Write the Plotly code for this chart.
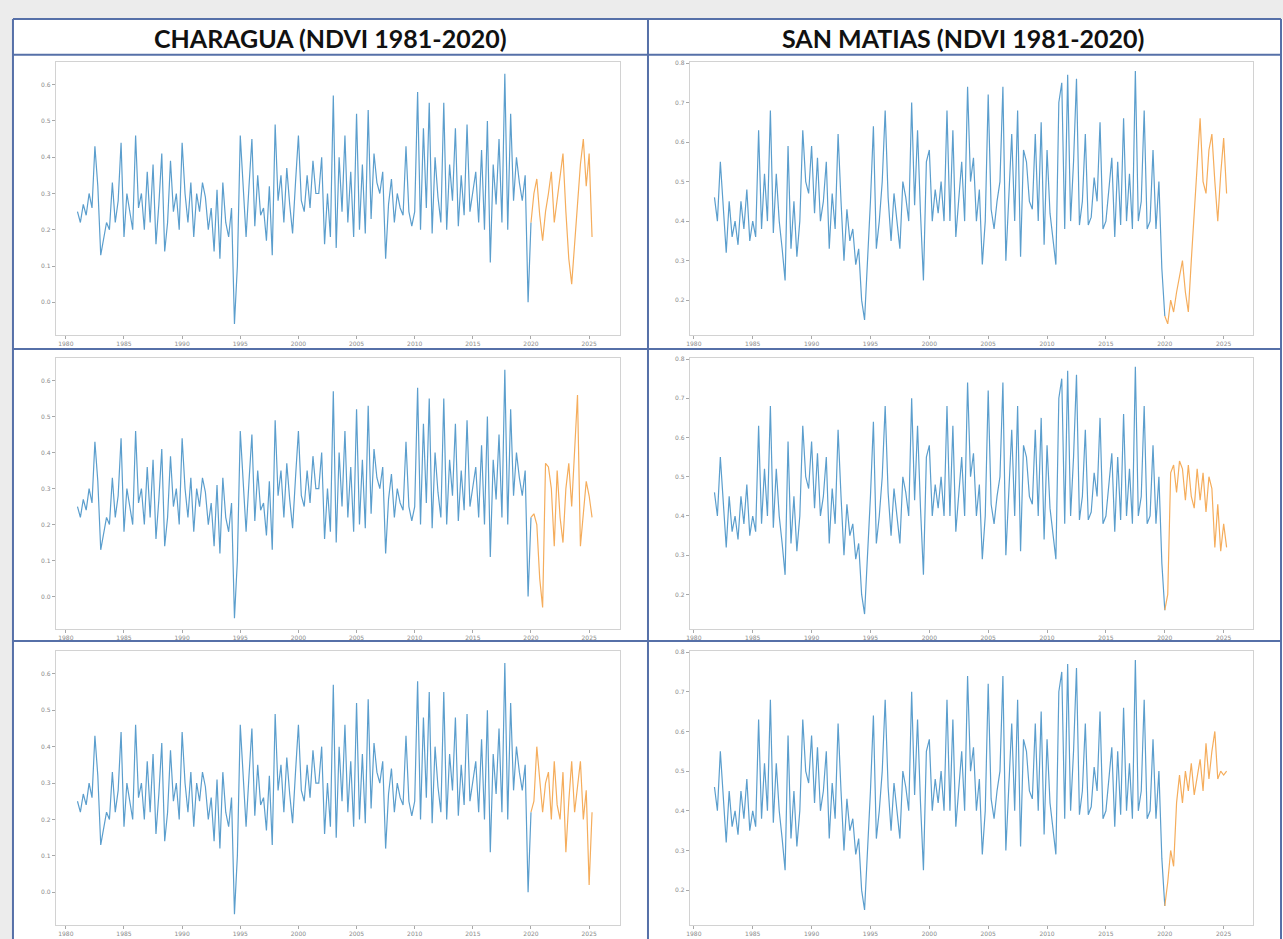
import plotly.graph_objects as go

W, H = 1283, 939

# ---------------- data ----------------
year_ticks = [1980, 1985, 1990, 1995, 2000, 2005, 2010, 2015, 2020, 2025]
year_labels = [str(y) for y in year_ticks]

charagua_yticks = [0.0, 0.1, 0.2, 0.3, 0.4, 0.5, 0.6]
sanmatias_yticks = [0.2, 0.3, 0.4, 0.5, 0.6, 0.7, 0.8]

STEP = 0.25  # quarterly samples

# Charagua observed NDVI, quarterly from 1981.0
charagua_start = 1981.0
charagua_hist = [
    0.25, 0.22, 0.27, 0.24,
    0.30, 0.26, 0.43, 0.32,
    0.13, 0.18, 0.22, 0.20,
    0.33, 0.22, 0.28, 0.44,
    0.18, 0.30, 0.25, 0.20,
    0.46, 0.26, 0.30, 0.20,
    0.36, 0.22, 0.38, 0.16,
    0.27, 0.41, 0.14, 0.22,
    0.39, 0.25, 0.30, 0.20,
    0.44, 0.30, 0.22, 0.33,
    0.18, 0.30, 0.25, 0.33,
    0.29, 0.20, 0.26, 0.14,
    0.31, 0.12, 0.33, 0.22,
    0.18, 0.26, -0.06, 0.10,
    0.46, 0.30, 0.18, 0.32,
    0.45, 0.21, 0.35, 0.24,
    0.26, 0.17, 0.32, 0.13,
    0.49, 0.28, 0.35, 0.22,
    0.37, 0.27, 0.19, 0.33,
    0.46, 0.28, 0.25, 0.35,
    0.26, 0.39, 0.30, 0.30,
    0.40, 0.16, 0.30, 0.18,
    0.57, 0.15, 0.40, 0.25,
    0.46, 0.22, 0.36, 0.18,
    0.52, 0.20, 0.38, 0.19,
    0.53, 0.23, 0.41, 0.33,
    0.30, 0.36, 0.12, 0.27,
    0.34, 0.22, 0.30, 0.26,
    0.24, 0.43, 0.25, 0.21,
    0.25, 0.58, 0.20, 0.48,
    0.26, 0.55, 0.19, 0.40,
    0.29, 0.22, 0.55, 0.20,
    0.38, 0.28, 0.48, 0.21,
    0.35, 0.24, 0.49, 0.25,
    0.30, 0.36, 0.22, 0.42,
    0.20, 0.50, 0.11, 0.38,
    0.27, 0.45, 0.22, 0.63,
    0.20, 0.52, 0.28, 0.40,
    0.33, 0.28, 0.35, 0.00,
    0.22,
]

# San Matias observed NDVI, quarterly from 1981.75
sanmatias_start = 1981.75
sanmatias_hist = [
    0.46,
    0.40, 0.55, 0.43, 0.32,
    0.45, 0.36, 0.40, 0.34,
    0.45, 0.38, 0.48, 0.35,
    0.40, 0.36, 0.63, 0.38,
    0.52, 0.40, 0.68, 0.37,
    0.52, 0.40, 0.33, 0.25,
    0.59, 0.33, 0.45, 0.31,
    0.40, 0.63, 0.50, 0.47,
    0.59, 0.42, 0.56, 0.40,
    0.45, 0.55, 0.33, 0.47,
    0.38, 0.62, 0.45, 0.30,
    0.43, 0.35, 0.38, 0.29,
    0.33, 0.20, 0.15, 0.30,
    0.45, 0.64, 0.33, 0.40,
    0.50, 0.68, 0.46, 0.35,
    0.47, 0.40, 0.33, 0.50,
    0.46, 0.40, 0.70, 0.44,
    0.63, 0.42, 0.25, 0.55,
    0.58, 0.40, 0.48, 0.42,
    0.50, 0.40, 0.68, 0.40,
    0.63, 0.36, 0.45, 0.55,
    0.40, 0.74, 0.50, 0.56,
    0.40, 0.48, 0.29, 0.40,
    0.72, 0.43, 0.38, 0.45,
    0.50, 0.74, 0.30, 0.45,
    0.62, 0.40, 0.68, 0.31,
    0.58, 0.55, 0.45, 0.43,
    0.62, 0.40, 0.65, 0.34,
    0.58, 0.42, 0.35, 0.29,
    0.70, 0.75, 0.38, 0.77,
    0.40, 0.55, 0.76, 0.39,
    0.45, 0.62, 0.39, 0.41,
    0.51, 0.45, 0.65, 0.38,
    0.40, 0.48, 0.56, 0.36,
    0.55, 0.39, 0.66, 0.40,
    0.52, 0.38, 0.78, 0.40,
    0.45, 0.68, 0.38, 0.40,
    0.58, 0.38, 0.50, 0.28,
    0.16,
]

# Forecasts, quarterly from 2020.0
forecast_start = 2020.0
charagua_fc_1 = [0.22, 0.30, 0.34, 0.24, 0.17, 0.25, 0.30, 0.36, 0.22, 0.28, 0.35,
                 0.41, 0.25, 0.12, 0.05, 0.15, 0.27, 0.38, 0.45, 0.32, 0.41, 0.18]
charagua_fc_2 = [0.22, 0.23, 0.20, 0.05, -0.03, 0.37, 0.36, 0.30, 0.14, 0.35, 0.22,
                 0.15, 0.30, 0.37, 0.25, 0.40, 0.56, 0.14, 0.22, 0.32, 0.28, 0.22]
charagua_fc_3 = [0.22, 0.25, 0.40, 0.30, 0.22, 0.30, 0.33, 0.20, 0.36, 0.24, 0.20,
                 0.33, 0.11, 0.25, 0.36, 0.22, 0.30, 0.36, 0.20, 0.28, 0.02, 0.22]
sanmatias_fc_1 = [0.16, 0.14, 0.20, 0.17, 0.22, 0.26, 0.30, 0.22, 0.17, 0.30, 0.42,
                  0.55, 0.66, 0.50, 0.47, 0.58, 0.62, 0.50, 0.40, 0.52, 0.61, 0.47]
sanmatias_fc_2 = [0.16, 0.20, 0.51, 0.53, 0.46, 0.54, 0.52, 0.44, 0.53, 0.45, 0.42,
                  0.52, 0.44, 0.51, 0.41, 0.50, 0.47, 0.32, 0.43, 0.31, 0.38, 0.32]
sanmatias_fc_3 = [0.16, 0.22, 0.30, 0.26, 0.42, 0.49, 0.42, 0.50, 0.45, 0.52, 0.44,
                  0.48, 0.53, 0.45, 0.57, 0.48, 0.55, 0.60, 0.48, 0.50, 0.49, 0.50]

titles = ["CHARAGUA (NDVI 1981-2020)", "SAN MATIAS (NDVI 1981-2020)"]

# ---------------- styling ----------------
BLUE = "#5b9ecd"
ORANGE = "#f5ad5c"
FRAME = "#d2d2d2"
GRID_LINE = "#5670a8"
TICK_FONT = dict(family="DejaVu Sans", size=6, color="#8a8a8a")


def times(start, n):
    return [start + STEP * i for i in range(n)]


def px_x(x):
    return x / W


def px_y(y):
    return 1 - y / H


# axes boxes in pixels: (left, right, top, bottom)
col_box = {0: (52, 618), 1: (688, 1253)}
row_box = {0: (59, 333), 1: (356, 628), 2: (650, 925)}
x_ranges = {0: [1979.14, 2027.66], 1: [1979.66, 2027.5]}
y_ranges = {0: [-0.09, 0.663], 1: [0.112, 0.803]}

panels = [
    (0, 0, charagua_start, charagua_hist, charagua_fc_1),
    (0, 1, sanmatias_start, sanmatias_hist, sanmatias_fc_1),
    (1, 0, charagua_start, charagua_hist, charagua_fc_2),
    (1, 1, sanmatias_start, sanmatias_hist, sanmatias_fc_2),
    (2, 0, charagua_start, charagua_hist, charagua_fc_3),
    (2, 1, sanmatias_start, sanmatias_hist, sanmatias_fc_3),
]

fig = go.Figure()
layout = {}

for i, (r, c, start, hist, fc) in enumerate(panels, start=1):
    sfx = "" if i == 1 else str(i)
    xa, ya = "x" + sfx, "y" + sfx
    fig.add_trace(go.Scatter(x=times(start, len(hist)), y=hist, mode="lines",
                             line=dict(color=BLUE, width=1.2), xaxis=xa, yaxis=ya,
                             showlegend=False, hoverinfo="skip"))
    fig.add_trace(go.Scatter(x=times(forecast_start, len(fc)), y=fc, mode="lines",
                             line=dict(color=ORANGE, width=1.2), xaxis=xa, yaxis=ya,
                             showlegend=False, hoverinfo="skip"))
    l, rgt = col_box[c]
    t, b = row_box[r]
    yt = charagua_yticks if c == 0 else sanmatias_yticks
    layout["xaxis" + sfx] = dict(
        domain=[px_x(l), px_x(rgt)], anchor=ya, range=x_ranges[c],
        tickvals=year_ticks, ticktext=year_labels, tickfont=TICK_FONT,
        ticks="outside", ticklen=3, tickcolor="#a8a8a8",
        showline=True, linecolor=FRAME, linewidth=1, mirror=True,
        showgrid=False, zeroline=False, fixedrange=True)
    layout["yaxis" + sfx] = dict(
        domain=[px_y(b), px_y(t)], anchor=xa, range=y_ranges[c],
        tickvals=yt, ticktext=[f"{v:.1f}" for v in yt], tickfont=TICK_FONT,
        ticks="outside", ticklen=3, tickcolor="#a8a8a8",
        showline=True, linecolor=FRAME, linewidth=1, mirror=True,
        showgrid=False, zeroline=False, fixedrange=True)

# table frame
shapes = [
    dict(type="rect", xref="paper", yref="paper", x0=px_x(9), x1=1.0,
         y0=0, y1=px_y(16), fillcolor="white", line=dict(width=0), layer="below"),
]
for y in (16, 52, 347, 640):
    shapes.append(dict(type="line", xref="paper", yref="paper", x0=px_x(9), x1=px_x(1281),
                       y0=px_y(y), y1=px_y(y), line=dict(color=GRID_LINE, width=2)))
for x in (9, 646, 1281):
    shapes.append(dict(type="line", xref="paper", yref="paper", x0=px_x(x), x1=px_x(x),
                       y0=0, y1=px_y(16), line=dict(color=GRID_LINE, width=2)))

title_font = dict(family="Lato", size=25, color="#111111", weight="bold")
annotations = [
    dict(text=titles[0], x=px_x(328), y=px_y(35), xref="paper", yref="paper",
         showarrow=False, xanchor="center", yanchor="middle", font=title_font),
    dict(text=titles[1], x=px_x(962), y=px_y(35), xref="paper", yref="paper",
         showarrow=False, xanchor="center", yanchor="middle", font=title_font),
]

fig.update_layout(
    width=W, height=H, margin=dict(l=0, r=0, t=0, b=0),
    paper_bgcolor="#ececec", plot_bgcolor="white",
    shapes=shapes, annotations=annotations, **layout,
)

fig.write_html("out.html", config={"displayModeBar": False})
